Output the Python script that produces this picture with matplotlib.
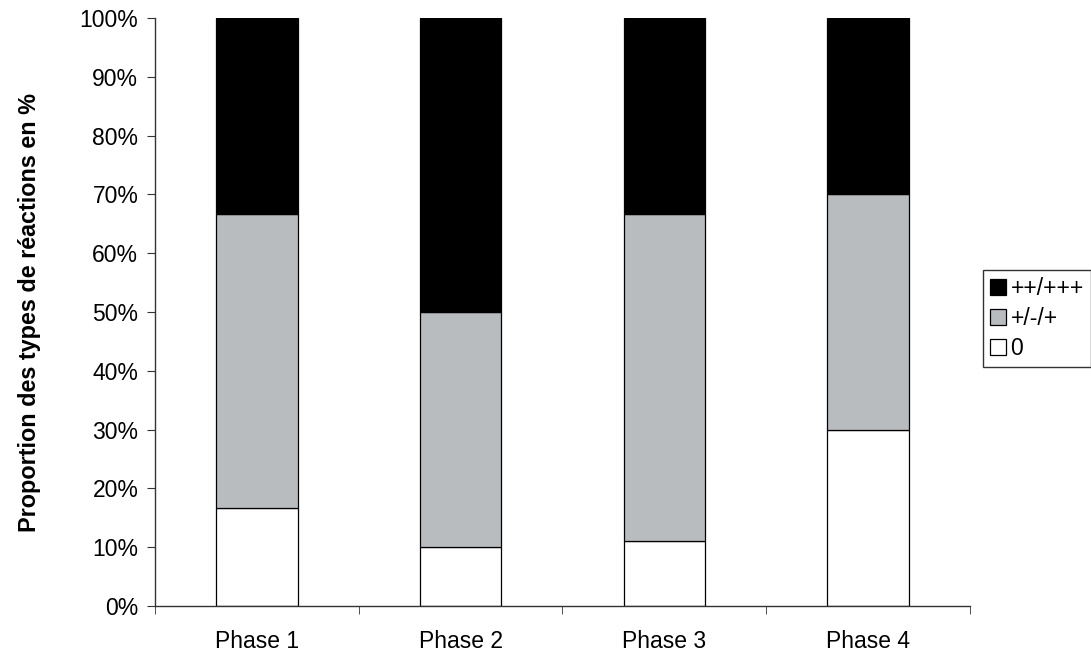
import matplotlib
matplotlib.use("Agg")
import matplotlib.pyplot as plt
import numpy as np

categories = ["Phase 1", "Phase 2", "Phase 3", "Phase 4"]
zero = [16.7, 10.0, 11.1, 30.0]
mid = [50.0, 40.0, 55.6, 40.0]
high = [33.3, 50.0, 33.3, 30.0]
series_labels = ["++/+++", "+/-/+", "0"]
ytick_labels = ["0%", "10%", "20%", "30%", "40%", "50%", "60%", "70%", "80%", "90%", "100%"]

plt.rcParams['font.family'] = ['Liberation Sans', 'DejaVu Sans']
FS = 16.5

fig = plt.figure(figsize=(10.91, 6.55), dpi=100)
ax = fig.add_axes([0.142, 0.0748, 0.747, 0.8977])

x = np.arange(len(categories))
w = 0.4
ec = "black"
lw = 0.9
b0 = ax.bar(x, zero, w, color="white", edgecolor=ec, linewidth=lw, label=series_labels[2])
b1 = ax.bar(x, mid, w, bottom=zero, color="#B8BCBE", edgecolor=ec, linewidth=lw, label=series_labels[1])
b2 = ax.bar(x, high, w, bottom=np.array(zero) + np.array(mid), color="black", edgecolor=ec, linewidth=lw, label=series_labels[0])

ax.set_xlim(-0.5, len(categories) - 0.5)
ax.set_ylim(0, 100)
ax.set_yticks(np.arange(0, 101, 10))
ax.set_yticklabels(ytick_labels, fontsize=FS)
ax.set_xticks(x)
ax.set_xticklabels(categories, fontsize=FS)
ax.tick_params(axis='x', which='major', length=0, pad=17)
ax.set_xticks(np.arange(-0.5, len(categories), 1.0), minor=True)
ax.tick_params(axis='x', which='minor', length=6, direction='out', color='#333333')
ax.tick_params(axis='y', length=6, direction='out', color='#333333', pad=6)

for s in ['top', 'right']:
    ax.spines[s].set_visible(False)
for s in ['left', 'bottom']:
    ax.spines[s].set_color('#333333')
    ax.spines[s].set_linewidth(1.0)

ax.set_ylabel("Proportion des types de réactions en %", fontsize=16.8, fontweight='bold', labelpad=28)

leg = fig.legend(handles=[b2, b1, b0], labels=series_labels, loc='upper left',
                 bbox_to_anchor=(0.901, 0.588), fontsize=FS, frameon=True,
                 fancybox=False, edgecolor='black', handlelength=0.7, handleheight=0.7,
                 handletextpad=0.2, borderpad=0.3, labelspacing=0.32, borderaxespad=0)
leg.get_frame().set_linewidth(1.0)

fig.savefig("out.png", dpi=100)
